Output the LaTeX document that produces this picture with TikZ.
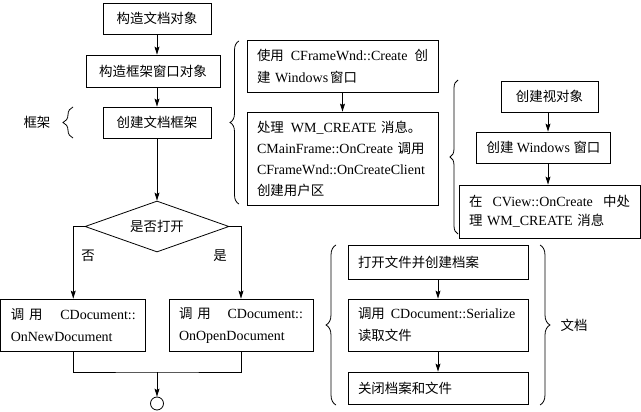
\documentclass[tikz,border=0pt]{standalone}
\usepackage{fontspec}
\setmainfont{Liberation Serif}
\newfontfamily\cjkfont[Scale=0.96]{Noto Sans CJK SC}
\newcommand{\zz}[1]{{\cjkfont #1}}
\usetikzlibrary{arrows.meta,shapes.geometric,decorations.pathreplacing}
\begin{document}
\begin{tikzpicture}[x=1pt,y=-1pt,
  font=\fontsize{14}{22}\selectfont,
  box/.style={draw,line width=0.8pt,inner xsep=10pt,inner ysep=0pt},
  arr/.style={-{Stealth[length=8pt,width=5pt,inset=1.5pt]},line width=0.8pt},
  ln/.style={line width=0.8pt},
  brc/.style={decorate,decoration={brace,amplitude=#1},line width=0.8pt},
  brc/.default=9,
  lbl/.style={inner sep=0pt}
]
\useasboundingbox (0,0) rectangle (641,412);

% left column
\node[box,align=center,text width=88pt,minimum height=31pt] (a) at (157,18.5) {\zz{构造文档对象}};
\node[box,align=center,text width=114pt,minimum height=32pt] (b) at (153,71) {\zz{构造框架窗口对象}};
\node[box,align=center,text width=88pt,minimum height=31pt] (c) at (157,122.5) {\zz{创建文档框架}};
\node[diamond,draw,line width=0.8pt,minimum width=144pt,minimum height=51pt,aspect=2.8,inner sep=0pt] (dia) at (157,226.5) {\zz{是否打开}};
\node[box,align=left,text width=125pt,minimum height=52pt] (d1) at (73.25,325)
  {\hbox to 125pt{\zz{调}\hspace{5pt}\zz{用}\hfill CDocument::}\\OnNewDocument};
\node[box,align=left,text width=124pt,minimum height=52pt] (d2) at (241,325)
  {\hbox to 124pt{\zz{调}\hspace{5pt}\zz{用}\hfill CDocument::}\\OnOpenDocument};
\coordinate (j) at (157,372);
\node[circle,draw,line width=0.8pt,minimum size=13pt,inner sep=0pt] (circ) at (157,403.5) {};

\node[lbl] (no) at (88,256) {\zz{否}};
\node[lbl] (yes) at (220,256) {\zz{是}};
\node[lbl] (kj) at (37,122.5) {\zz{框架}};

% frame column
\node[box,align=left,text width=171pt,minimum height=52pt] (e1) at (342.5,66)
  {\hbox to 171pt{\zz{使用}\hfill CFrameWnd::Create\hfill\zz{创}}\\\zz{建} Windows\hspace{2pt}\zz{窗口}};
\node[box,align=left,text width=171pt,minimum height=93pt,font=\fontsize{14}{21}\selectfont] (e2) at (342.5,158.5)
  {\zz{处理}\hspace{7pt}WM\_CREATE \zz{消息。}\\CMainFrame::OnCreate \zz{调用}\\CFrameWnd::OnCreateClient\\\zz{创建用户区}};

% view column
\node[box,align=center,text width=77pt,minimum height=31pt] (f1) at (549.5,96.5) {\zz{创建视对象}};
\node[box,minimum width=133pt,minimum height=31pt] (f2) at (543.5,147.5) {\mbox{\zz{创建} Windows \zz{窗口}}};
\node[box,align=left,text width=161pt,minimum height=53pt,font=\fontsize{14}{19.5}\selectfont] (f3) at (549.5,211.5)
  {\hbox to 161pt{\zz{在}\hfill CView::OnCreate\hfill\zz{中处}}\\\zz{理} WM\_CREATE \zz{消息}};
\coordinate (fx) at (548,0);

% document column
\node[box,align=left,text width=160pt,minimum height=34pt] (g1) at (438,262) {\zz{打开文件并创建档案}};
\node[box,align=left,text width=160pt,minimum height=52pt] (g2) at (438,325)
  {\zz{调用}\hspace{6pt}CDocument::Serialize\\\zz{读取文件}};
\node[box,align=left,text width=160pt,minimum height=32pt] (g3) at (438,388) {\zz{关闭档案和文件}};
\node[lbl] (wd) at (574,325) {\zz{文档}};

% connectors
\draw[arr] (a.south) -- (a.south |- b.north);
\draw[arr] (c.north |- b.south) -- (c.north);
\draw[arr] (c.south) -- (dia.north);
\draw[arr] (dia.west) -| (d1.north);
\draw[arr] (dia.east) -| (d2.north);
\draw[ln] (d1.south) |- (j) -| (d2.south);
\draw[arr] (j) -- (circ.north);
\draw[arr] (e1.south) -- (e2.north);
\draw[arr] (fx |- f1.south) -- (fx |- f2.north);
\draw[arr] (fx |- f2.south) -- (fx |- f3.north);
\draw[arr] (g1.south) -- (g2.north);
\draw[arr] (g2.south) -- (g3.north);

% braces
\draw[brc=10] (73,138) -- (73,107);
\draw[brc=9] (239,204) -- (239,41);
\draw[brc=8] (458,234) -- (458,80);
\draw[brc=10] (336,405) -- (336,245);
\draw[brc=10] (540,245) -- (540,405);
\end{tikzpicture}
\end{document}
